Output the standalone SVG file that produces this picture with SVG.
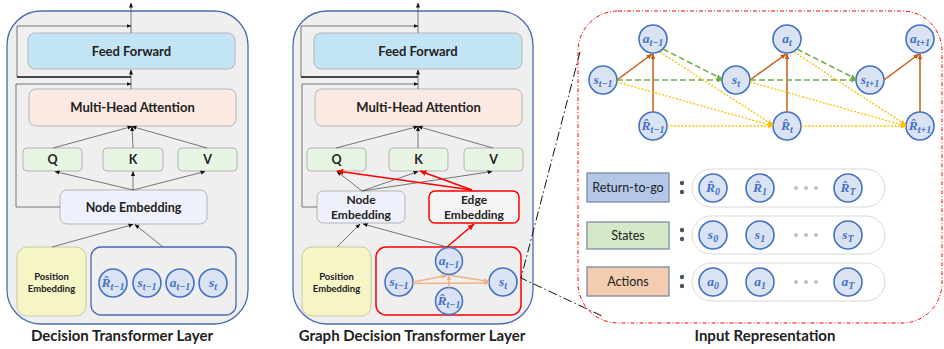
<svg xmlns="http://www.w3.org/2000/svg" width="944" height="349" viewBox="0 0 944 349">
<style>
.panel{fill:#efefef;stroke:#4a6cad;stroke-width:1.3}
.box{stroke:#b5b5b5;stroke-width:1}
.ff{fill:#c2e4f5}.mha{fill:#fbe9e3}.qkv{fill:#e8f4e4}.ne{fill:#eef1fb}
.pe{fill:#f5f5c6;stroke:#cacaa8;stroke-width:1}
.ee{fill:#f4f4f4;stroke:#ff0000;stroke-width:1.5}
.lbl{font-family:Lato,"Liberation Sans",sans-serif;font-weight:bold;fill:#222;text-anchor:middle}
.txt{font-family:Lato,"Liberation Sans",sans-serif;fill:#222;text-anchor:middle;font-size:12.5px}
.c{fill:#dae3f3;stroke:#4472c4;stroke-width:1.6}
.m{font-family:"Liberation Serif",serif;font-style:italic;font-weight:bold;fill:#4472c4;font-size:13.5px;text-anchor:middle}
.sub{font-size:10px}
.ln{stroke:#555;stroke-width:0.8;fill:none}
.blk{stroke:#111;stroke-width:1.6;fill:none}
.red{stroke:#ff0000;stroke-width:1.5;fill:none}
.or{stroke:#c55a11;stroke-width:1.5;fill:none}
.gr{stroke:#70ad47;stroke-width:1.5;stroke-dasharray:6 3;fill:none}
.ye{stroke:#ffc000;stroke-width:1.3;stroke-dasharray:2 1.6;fill:none}
.lo{stroke:#f4b183;stroke-width:1.4;fill:none}
.dd{stroke:#111;stroke-width:1;stroke-dasharray:9 3 1.5 3;fill:none}
</style>
<defs>
<marker id="ah" viewBox="0 0 10 10" refX="9" refY="5" markerWidth="5" markerHeight="5" markerUnits="userSpaceOnUse" orient="auto"><path d="M0,1 L10,5 L0,9 z" fill="#111"/></marker>
<marker id="ahr" viewBox="0 0 10 10" refX="9" refY="5" markerWidth="7" markerHeight="7" markerUnits="userSpaceOnUse" orient="auto"><path d="M0,1 L10,5 L0,9 z" fill="#ff0000"/></marker>
<marker id="aho" viewBox="0 0 10 10" refX="9" refY="5" markerWidth="6" markerHeight="6" markerUnits="userSpaceOnUse" orient="auto"><path d="M0,1 L10,5 L0,9 z" fill="#c55a11"/></marker>
<marker id="ahg" viewBox="0 0 10 10" refX="9" refY="5" markerWidth="6" markerHeight="6" markerUnits="userSpaceOnUse" orient="auto"><path d="M0,1 L10,5 L0,9 z" fill="#70ad47"/></marker>
<marker id="ahy" viewBox="0 0 10 10" refX="9" refY="5" markerWidth="6" markerHeight="6" markerUnits="userSpaceOnUse" orient="auto"><path d="M0,1 L10,5 L0,9 z" fill="#ffc000"/></marker>
<marker id="ahl" viewBox="0 0 10 10" refX="9" refY="5" markerWidth="6" markerHeight="6" markerUnits="userSpaceOnUse" orient="auto"><path d="M0,1 L10,5 L0,9 z" fill="#f4b183"/></marker>
</defs>

<!-- panels -->
<g id="panels">
<rect class="panel" x="7" y="11" width="241" height="313" rx="34"/>
<rect class="panel" x="293" y="11" width="240" height="313" rx="34"/>
<rect x="578" y="11" width="364" height="312" rx="40" fill="#fff" stroke="#ff0000" stroke-width="1" stroke-dasharray="4 2 1 2"/>
</g>

<!-- Left panel: Decision Transformer Layer -->
<g id="dt-ff"><rect class="box ff" x="28" y="33" width="207" height="36" rx="7"/><text class="lbl" x="131.5" y="56" font-size="13">Feed Forward</text></g>
<g id="dt-mha"><rect class="box mha" x="29" y="89" width="207" height="37" rx="7"/><text class="lbl" x="132.5" y="112" font-size="13">Multi-Head Attention</text></g>
<g id="dt-q"><rect class="box qkv" x="23" y="148" width="59" height="23" rx="4"/><text class="lbl" x="52.5" y="164" font-size="12.5">Q</text></g>
<g id="dt-k"><rect class="box qkv" x="103" y="148" width="60" height="23" rx="4"/><text class="lbl" x="133" y="164" font-size="12.5">K</text></g>
<g id="dt-v"><rect class="box qkv" x="178" y="148" width="59" height="23" rx="4"/><text class="lbl" x="207.5" y="164" font-size="12.5">V</text></g>
<g id="dt-ne"><rect class="box ne" x="60" y="190" width="147" height="34" rx="7"/><text class="lbl" x="133.5" y="211.5" font-size="12.5">Node Embedding</text></g>
<g id="dt-pe"><rect class="pe" x="17" y="247" width="69" height="69" rx="10"/><text class="lbl" x="51.5" y="280" font-size="9.5">Position</text><text class="lbl" x="51.5" y="292" font-size="9.5">Embedding</text></g>
<g id="dt-tokens"><rect x="91" y="247" width="145" height="68" rx="10" fill="none" stroke="#4a6cad" stroke-width="1.3"/>
<circle class="c" cx="113" cy="283" r="14"/><text class="m" x="113" y="287">R̂<tspan class="sub" dy="2.5">t−1</tspan></text>
<circle class="c" cx="147" cy="283" r="14"/><text class="m" x="147" y="287">s<tspan class="sub" dy="2.5">t−1</tspan></text>
<circle class="c" cx="180" cy="283" r="14"/><text class="m" x="180" y="287">a<tspan class="sub" dy="2.5">t−1</tspan></text>
<circle class="c" cx="213" cy="283" r="14"/><text class="m" x="213" y="287">s<tspan class="sub" dy="2.5">t</tspan></text>
</g>

<!-- Middle panel: Graph Decision Transformer Layer -->
<g id="gdt-ff"><rect class="box ff" x="314" y="33" width="208" height="36" rx="7"/><text class="lbl" x="418" y="56" font-size="13">Feed Forward</text></g>
<g id="gdt-mha"><rect class="box mha" x="315" y="89" width="207" height="37" rx="7"/><text class="lbl" x="418.5" y="112" font-size="13">Multi-Head Attention</text></g>
<g id="gdt-q"><rect class="box qkv" x="307" y="148" width="59" height="23" rx="4"/><text class="lbl" x="336.5" y="164" font-size="12.5">Q</text></g>
<g id="gdt-k"><rect class="box qkv" x="389" y="148" width="59" height="23" rx="4"/><text class="lbl" x="418.5" y="164" font-size="12.5">K</text></g>
<g id="gdt-v"><rect class="box qkv" x="464" y="148" width="59" height="23" rx="4"/><text class="lbl" x="493.5" y="164" font-size="12.5">V</text></g>
<g id="gdt-ne"><rect class="box ne" x="317" y="191" width="88" height="32" rx="6"/><text class="lbl" x="361" y="203.5" font-size="12">Node</text><text class="lbl" x="361" y="219" font-size="12">Embedding</text></g>
<g id="gdt-ee"><rect class="ee" x="429" y="191" width="90" height="32" rx="6"/><text class="lbl" x="474" y="203.5" font-size="12">Edge</text><text class="lbl" x="474" y="219" font-size="12">Embedding</text></g>
<g id="gdt-pe"><rect class="pe" x="302" y="247" width="69" height="69" rx="10"/><text class="lbl" x="336.5" y="280" font-size="9.5">Position</text><text class="lbl" x="336.5" y="292" font-size="9.5">Embedding</text></g>
<g id="gdt-tokens"><rect x="376" y="247" width="145" height="68" rx="10" fill="none" stroke="#ff0000" stroke-width="1.5"/>
<circle class="c" cx="399" cy="282" r="14"/><text class="m" x="399" y="286">s<tspan class="sub" dy="2.5">t−1</tspan></text>
<circle class="c" cx="449" cy="261" r="13.5"/><text class="m" x="449" y="265">a<tspan class="sub" dy="2.5">t−1</tspan></text>
<circle class="c" cx="449" cy="301" r="13.5"/><text class="m" x="449" y="305">R̂<tspan class="sub" dy="2.5">t−1</tspan></text>
<circle class="c" cx="503" cy="282" r="14"/><text class="m" x="503" y="286">s<tspan class="sub" dy="2.5">t</tspan></text>
</g>

<!-- Right panel: graph -->
<g id="ir-graph">
<circle class="c" cx="603" cy="80" r="14"/><text class="m" x="603" y="84">s<tspan class="sub" dy="2.5">t−1</tspan></text>
<circle class="c" cx="653" cy="39" r="14"/><text class="m" x="653" y="43">a<tspan class="sub" dy="2.5">t−1</tspan></text>
<circle class="c" cx="653" cy="126" r="14"/><text class="m" x="653" y="130">R̂<tspan class="sub" dy="2.5">t−1</tspan></text>
<circle class="c" cx="736" cy="80" r="14"/><text class="m" x="736" y="84">s<tspan class="sub" dy="2.5">t</tspan></text>
<circle class="c" cx="787" cy="39" r="14"/><text class="m" x="787" y="43">a<tspan class="sub" dy="2.5">t</tspan></text>
<circle class="c" cx="787" cy="126" r="14"/><text class="m" x="787" y="130">R̂<tspan class="sub" dy="2.5">t</tspan></text>
<circle class="c" cx="870" cy="80" r="14"/><text class="m" x="870" y="84">s<tspan class="sub" dy="2.5">t+1</tspan></text>
<circle class="c" cx="920" cy="39" r="14"/><text class="m" x="920" y="43">a<tspan class="sub" dy="2.5">t+1</tspan></text>
<circle class="c" cx="920" cy="126" r="14"/><text class="m" x="920" y="130">R̂<tspan class="sub" dy="2.5">t+1</tspan></text>
</g>

<!-- Right panel: input rows -->
<g id="ir-rtg"><rect x="587" y="173" width="82" height="29" fill="#b4c7e7" stroke="#7c8aa5" stroke-width="1.3"/><text class="txt" x="628" y="192">Return-to-go</text></g>
<g id="ir-states"><rect x="587" y="222" width="82" height="27" fill="#d5e8c8" stroke="#7c8aa5" stroke-width="1.3"/><text class="txt" x="628" y="240">States</text></g>
<g id="ir-actions"><rect x="587" y="267" width="82" height="29" fill="#f4ccb0" stroke="#7c8aa5" stroke-width="1.3"/><text class="txt" x="628" y="286">Actions</text></g>
<g id="ir-colons" fill="#44546a">
<circle cx="682" cy="183" r="2.2"/><circle cx="682" cy="192" r="2.2"/>
<circle cx="682" cy="230" r="2.2"/><circle cx="682" cy="239" r="2.2"/>
<circle cx="682" cy="277" r="2.2"/><circle cx="682" cy="286" r="2.2"/>
</g>
<g id="ir-seq-rtg"><rect x="692" y="169" width="193" height="38" rx="19" fill="#fff" stroke="#d9d9d9" stroke-width="1"/>
<circle class="c" cx="713" cy="188" r="14"/><text class="m" x="713" y="192">R̂<tspan class="sub" dy="2.5">0</tspan></text>
<circle class="c" cx="760" cy="188" r="14"/><text class="m" x="760" y="192">R̂<tspan class="sub" dy="2.5">1</tspan></text>
<circle cx="796" cy="188" r="2" fill="#bfbfbf"/><circle cx="806" cy="188" r="2" fill="#bfbfbf"/><circle cx="816" cy="188" r="2" fill="#bfbfbf"/>
<circle class="c" cx="848" cy="188" r="14"/><text class="m" x="848" y="192">R̂<tspan class="sub" dy="2.5">T</tspan></text>
</g>
<g id="ir-seq-states"><rect x="692" y="216" width="193" height="38" rx="19" fill="#fff" stroke="#d9d9d9" stroke-width="1"/>
<circle class="c" cx="713" cy="235" r="14"/><text class="m" x="713" y="239">s<tspan class="sub" dy="2.5">0</tspan></text>
<circle class="c" cx="760" cy="235" r="14"/><text class="m" x="760" y="239">s<tspan class="sub" dy="2.5">1</tspan></text>
<circle cx="796" cy="235" r="2" fill="#bfbfbf"/><circle cx="806" cy="235" r="2" fill="#bfbfbf"/><circle cx="816" cy="235" r="2" fill="#bfbfbf"/>
<circle class="c" cx="848" cy="235" r="14"/><text class="m" x="848" y="239">s<tspan class="sub" dy="2.5">T</tspan></text>
</g>
<g id="ir-seq-actions"><rect x="692" y="263" width="193" height="38" rx="19" fill="#fff" stroke="#d9d9d9" stroke-width="1"/>
<circle class="c" cx="713" cy="282" r="14"/><text class="m" x="713" y="286">a<tspan class="sub" dy="2.5">0</tspan></text>
<circle class="c" cx="760" cy="282" r="14"/><text class="m" x="760" y="286">a<tspan class="sub" dy="2.5">1</tspan></text>
<circle cx="796" cy="282" r="2" fill="#bfbfbf"/><circle cx="806" cy="282" r="2" fill="#bfbfbf"/><circle cx="816" cy="282" r="2" fill="#bfbfbf"/>
<circle class="c" cx="848" cy="282" r="14"/><text class="m" x="848" y="286">a<tspan class="sub" dy="2.5">T</tspan></text>
</g>

<!-- titles -->
<g id="titles">
<text class="lbl" x="122" y="341" font-size="15">Decision Transformer Layer</text>
<text class="lbl" x="412" y="341" font-size="15">Graph Decision Transformer Layer</text>
<text class="lbl" x="765" y="341" font-size="15">Input Representation</text>
</g>

<!-- connectors -->
<g id="connectors">
<!-- left panel -->
<line class="ln" x1="131" y1="89" x2="131" y2="70" marker-end="url(#ah)"/>
<line class="ln" x1="131" y1="33" x2="131" y2="3" marker-end="url(#ah)"/>
<polyline class="ln" points="17,77 17,26 131,26" marker-end="url(#ah)"/>
<line class="blk" x1="17" y1="77" x2="131" y2="77"/>
<polyline class="ln" points="60,207 16,207 16,84 131,84" marker-end="url(#ah)"/>
<line class="ln" x1="53" y1="148" x2="132" y2="126.5" marker-end="url(#ah)"/>
<line class="ln" x1="133" y1="148" x2="132" y2="126.5" marker-end="url(#ah)"/>
<line class="ln" x1="207" y1="148" x2="132" y2="126.5" marker-end="url(#ah)"/>
<line class="ln" x1="133" y1="190" x2="55" y2="171.5" marker-end="url(#ah)"/>
<line class="ln" x1="133" y1="190" x2="133" y2="171.5" marker-end="url(#ah)"/>
<line class="ln" x1="133" y1="190" x2="205" y2="171.5" marker-end="url(#ah)"/>
<line class="ln" x1="52" y1="247" x2="133" y2="224.5" marker-end="url(#ah)"/>
<line class="ln" x1="163" y1="247" x2="135" y2="224.5" marker-end="url(#ah)"/>
<!-- middle panel -->
<line class="ln" x1="418" y1="89" x2="418" y2="70" marker-end="url(#ah)"/>
<line class="ln" x1="418" y1="33" x2="418" y2="3" marker-end="url(#ah)"/>
<polyline class="ln" points="301,77 301,26 418,26" marker-end="url(#ah)"/>
<line class="blk" x1="301" y1="77" x2="418" y2="77"/>
<polyline class="ln" points="317,207 302,207 302,84 418,84" marker-end="url(#ah)"/>
<line class="ln" x1="336" y1="148" x2="418" y2="126.5" marker-end="url(#ah)"/>
<line class="ln" x1="418" y1="148" x2="418" y2="126.5" marker-end="url(#ah)"/>
<line class="ln" x1="493" y1="148" x2="418" y2="126.5" marker-end="url(#ah)"/>
<line class="ln" x1="362" y1="191" x2="337" y2="171.5" marker-end="url(#ah)"/>
<line class="ln" x1="362" y1="191" x2="418" y2="171.5" marker-end="url(#ah)"/>
<line class="ln" x1="362" y1="191" x2="492" y2="171.5" marker-end="url(#ah)"/>
<line class="red" x1="472" y1="190" x2="337" y2="171" marker-end="url(#ahr)"/>
<line class="red" x1="472" y1="190" x2="420" y2="171" marker-end="url(#ahr)"/>
<line class="ln" x1="337" y1="247" x2="360" y2="224" marker-end="url(#ah)"/>
<line class="ln" x1="447" y1="247" x2="363" y2="224" marker-end="url(#ah)"/>
<line class="red" x1="447" y1="247" x2="474" y2="224" marker-end="url(#ahr)"/>
<line class="lo" x1="413" y1="282" x2="447" y2="275.5" marker-end="url(#ahl)"/>
<line class="lo" x1="449" y1="287.5" x2="449" y2="275" marker-end="url(#ahl)"/>
<line class="lo" x1="413" y1="283.5" x2="489" y2="283" marker-end="url(#ahl)"/>
<line class="lo" x1="451" y1="275.5" x2="489" y2="281.5" marker-end="url(#ahl)"/>
<!-- zoom lines -->
<polyline class="dd" points="580,52 521,278 602,316"/>
<!-- right graph: orange -->
<line class="or" x1="617" y1="80" x2="652" y2="54" marker-end="url(#aho)"/>
<line class="or" x1="653" y1="112" x2="653" y2="54" marker-end="url(#aho)"/>
<line class="or" x1="750" y1="80" x2="786" y2="54" marker-end="url(#aho)"/>
<line class="or" x1="787" y1="112" x2="787" y2="54" marker-end="url(#aho)"/>
<line class="or" x1="884" y1="80" x2="919" y2="54" marker-end="url(#aho)"/>
<line class="or" x1="920" y1="112" x2="920" y2="54" marker-end="url(#aho)"/>
<!-- green dashed -->
<line class="gr" x1="617" y1="80" x2="722" y2="80" marker-end="url(#ahg)"/>
<line class="gr" x1="663" y1="49" x2="722" y2="79" marker-end="url(#ahg)"/>
<line class="gr" x1="750" y1="80" x2="856" y2="80" marker-end="url(#ahg)"/>
<line class="gr" x1="797" y1="49" x2="856" y2="79" marker-end="url(#ahg)"/>
<!-- yellow dotted -->
<line class="ye" x1="617" y1="82" x2="773" y2="126" marker-end="url(#ahy)"/>
<line class="ye" x1="660" y1="52" x2="773" y2="125" marker-end="url(#ahy)"/>
<line class="ye" x1="667" y1="126" x2="773" y2="126" marker-end="url(#ahy)"/>
<line class="ye" x1="750" y1="82" x2="906" y2="126" marker-end="url(#ahy)"/>
<line class="ye" x1="794" y1="52" x2="906" y2="125" marker-end="url(#ahy)"/>
<line class="ye" x1="801" y1="126" x2="906" y2="126" marker-end="url(#ahy)"/>
</g>
</svg>
